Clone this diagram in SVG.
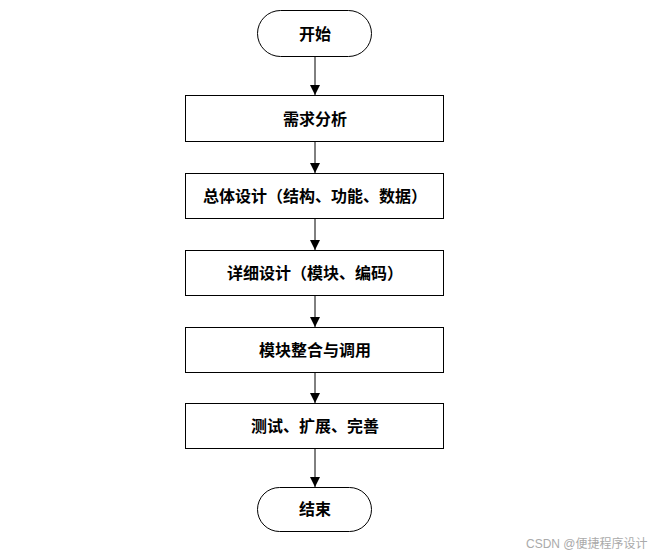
<svg xmlns="http://www.w3.org/2000/svg" width="655" height="557" viewBox="0 0 655 557">
<defs>
<marker id="ah" viewBox="0 0 10 10" refX="10" refY="5" markerWidth="10" markerHeight="10" markerUnits="userSpaceOnUse" orient="auto">
<path d="M0,0 L10,5 L0,10 z" fill="#000"/>
</marker>
<style>
.box{fill:#fff;stroke:#000;stroke-width:1}
.lbl{font-family:"Liberation Serif","Noto Sans CJK SC",serif;font-size:16px;font-weight:bold;text-anchor:middle;dominant-baseline:central;fill:#000}
.con{stroke:#000;stroke-width:1;fill:none;marker-end:url(#ah)}
.wm{font-family:"Liberation Sans","Noto Sans CJK SC",sans-serif;font-size:12px;fill:#aaa}
</style>
</defs>
<rect width="655" height="557" fill="#fff"/>
<g id="connectors">
<line class="con" x1="315" y1="57" x2="315" y2="95"/>
<line class="con" x1="315" y1="142" x2="315" y2="173"/>
<line class="con" x1="315" y1="219" x2="315" y2="250"/>
<line class="con" x1="315" y1="296" x2="315" y2="327"/>
<line class="con" x1="315" y1="373" x2="315" y2="403"/>
<line class="con" x1="315" y1="449" x2="315" y2="487"/>
</g>
<g id="start">
<rect class="box" x="257.5" y="10.5" width="114" height="46" rx="23" ry="23"/>
<text class="lbl" x="315" y="34">开始</text>
</g>
<g id="n1">
<rect class="box" x="185.5" y="95.5" width="258" height="46"/>
<text class="lbl" x="315" y="119">需求分析</text>
</g>
<g id="n2">
<rect class="box" x="185.5" y="173.5" width="258" height="45"/>
<text class="lbl" x="315" y="196">总体设计（结构、功能、数据）</text>
</g>
<g id="n3">
<rect class="box" x="185.5" y="250.5" width="258" height="45"/>
<text class="lbl" x="315" y="273">详细设计（模块、编码）</text>
</g>
<g id="n4">
<rect class="box" x="185.5" y="327.5" width="258" height="45"/>
<text class="lbl" x="315" y="350">模块整合与调用</text>
</g>
<g id="n5">
<rect class="box" x="185.5" y="403.5" width="258" height="45"/>
<text class="lbl" x="315" y="426">测试、扩展、完善</text>
</g>
<g id="end">
<rect class="box" x="257.5" y="487.5" width="114" height="44" rx="22" ry="22"/>
<text class="lbl" x="315" y="509">结束</text>
</g>
<text class="wm" x="526" y="548">CSDN @便捷程序设计</text>
</svg>
